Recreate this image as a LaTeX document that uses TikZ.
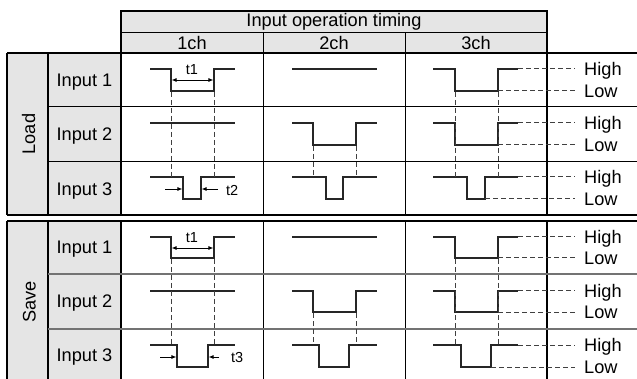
\documentclass[tikz,border=0pt]{standalone}
\usepackage{fontspec}
\setmainfont{Liberation Sans}
\usetikzlibrary{arrows.meta}
\begin{document}
\begin{tikzpicture}[x=1pt,y=-1pt,
  thickline/.style={line width=2pt, color=black},
  midline/.style={line width=1.4pt, color=black},
  thinline/.style={line width=1pt, color=black},
  greyline/.style={line width=1.2pt, color=black!55},
  wave/.style={line width=1.3pt, color=black!85, line join=miter},
  guide/.style={line width=1pt, dash pattern=on 5pt off 3pt, color=black!75},
  lbl/.style={font=\fontsize{18.2}{20}\selectfont, inner sep=0pt},
  tlbl/.style={font=\fontsize{14.5}{16}\selectfont, inner sep=0pt},
  meas/.style={line width=0.8pt, -{Latex[length=5pt,width=4pt]}},
  hdrfill/.style={fill=black!10},
]
\useasboundingbox (0,0) rectangle (637,379);
\clip (0,0) rectangle (637,379);

% fills
\fill[hdrfill] (121,11) rectangle (547,53);
\fill[hdrfill] (7,53) rectangle (121,215);
\fill[hdrfill] (7,221) rectangle (121,390);

% header lines
\draw[thinline] (121,33) -- (547,33);
\draw[thinline] (263,33) -- (263,53);
\draw[thinline] (405,33) -- (405,53);
\draw[thickline] (121,53) -- (121,11) -- (547,11) -- (547,53);

% body grid
\draw[thickline] (7,53) -- (637,53);
\draw[thickline] (7,215) -- (637,215);
\draw[thickline] (7,221) -- (637,221);
\draw[thickline] (7,53) -- (7,215);
\draw[thickline] (7,221) -- (7,390);
\draw[midline] (48,53) -- (48,215);
\draw[midline] (48,221) -- (48,390);
\draw[thickline] (121,53) -- (121,215);
\draw[thickline] (121,221) -- (121,390);
\draw[thickline] (547,53) -- (547,215);
\draw[thickline] (547,221) -- (547,390);
\draw[thinline] (263,53) -- (263,215);
\draw[thinline] (263,221) -- (263,390);
\draw[thinline] (405,53) -- (405,215);
\draw[thinline] (405,221) -- (405,390);
\draw[thinline] (48,107) -- (637,107);
\draw[thinline] (48,162) -- (637,162);
\draw[greyline] (48,274) -- (637,274);
\draw[greyline] (48,329) -- (637,329);

% ---------- Load waveforms ----------
\draw[wave] (150,69) -| (171,91) -| (214,69) -- (235,69);
\draw[wave] (150,123) -- (235,123);
\draw[wave] (150,177) -| (183,199) -| (201,177) -- (235,177);
\draw[wave] (292,69) -- (377,69);
\draw[wave] (292,123) -| (313,145) -| (356,123) -- (377,123);
\draw[wave] (292,177) -| (326,199) -| (343,177) -- (377,177);
\draw[wave] (433,69) -| (455,91) -| (498,69) -- (518,69);
\draw[wave] (433,123) -| (455,145) -| (498,123) -- (518,123);
\draw[wave] (433,177) -| (467,199) -| (485,177) -- (518,177);

\draw[guide] (171,92) -- (171,177);
\draw[guide] (214,92) -- (214,177);
\draw[guide] (313,146) -- (313,177);
\draw[guide] (356,146) -- (356,177);
\draw[guide] (455,92) -- (455,177);
\draw[guide] (498,92) -- (498,177);
\draw[guide] (518,69) -- (575,69);
\draw[guide] (498,91) -- (575,91);
\draw[guide] (518,123) -- (575,123);
\draw[guide] (498,145) -- (575,145);
\draw[guide] (518,177) -- (575,177);
\draw[guide] (485,199) -- (575,199);

\draw[meas, {Latex[length=5pt,width=4pt]}-{Latex[length=5pt,width=4pt]}] (171.6,80) -- (213.4,80);
\draw[meas] (165,189) -- (182.4,189);
\draw[meas] (218,189) -- (201.6,189);

% ---------- Save waveforms ----------
\draw[wave] (150,237) -| (171,258) -| (214,237) -- (235,237);
\draw[wave] (150,291) -- (235,291);
\draw[wave] (150,345) -| (177,367) -| (208,345) -- (235,345);
\draw[wave] (292,237) -- (377,237);
\draw[wave] (292,291) -| (313,312) -| (356,291) -- (377,291);
\draw[wave] (292,345) -| (319,367) -| (349,345) -- (377,345);
\draw[wave] (433,237) -| (455,258) -| (498,237) -- (518,237);
\draw[wave] (433,291) -| (455,312) -| (498,291) -- (518,291);
\draw[wave] (433,345) -| (461,367) -| (491,345) -- (518,345);

\draw[guide] (171,259) -- (171,345);
\draw[guide] (214,259) -- (214,345);
\draw[guide] (313,313) -- (313,345);
\draw[guide] (356,313) -- (356,345);
\draw[guide] (455,259) -- (455,345);
\draw[guide] (498,259) -- (498,345);
\draw[guide] (518,237) -- (575,237);
\draw[guide] (498,258) -- (575,258);
\draw[guide] (518,291) -- (575,291);
\draw[guide] (498,312) -- (575,312);
\draw[guide] (518,345) -- (575,345);
\draw[guide] (491,367) -- (575,367);

\draw[meas, {Latex[length=5pt,width=4pt]}-{Latex[length=5pt,width=4pt]}] (171.6,248) -- (213.4,248);
\draw[meas] (160,357) -- (176.4,357);
\draw[meas] (219,357) -- (208.6,357);

% ---------- texts ----------
\node[lbl] (hdr) at (334,22) {Input operation timing};
\node[lbl, anchor=base] (c1) at (192,50) {1ch};
\node[lbl, anchor=base] (c2) at (334,50) {2ch};
\node[lbl, anchor=base] (c3) at (476,50) {3ch};

\node[lbl, rotate=90, anchor=base] (load) at (35,134) {Load};
\node[lbl, rotate=90, anchor=base] (save) at (35.5,302) {Save};

\node[lbl, anchor=base] (li1) at (84.5,86.4) {Input 1};
\node[lbl, anchor=base] (li2) at (84.5,140.9) {Input 2};
\node[lbl, anchor=base] (li3) at (84.5,195.4) {Input 3};
\node[lbl, anchor=base] (si1) at (84.5,253.9) {Input 1};
\node[lbl, anchor=base] (si2) at (84.5,307.9) {Input 2};
\node[lbl, anchor=base] (si3) at (84.5,361.9) {Input 3};

\node[tlbl, anchor=base] (lt1) at (192,74.5) {t1};
\node[tlbl, anchor=base west] (lt2) at (226,195.5) {t2};
\node[tlbl, anchor=base] (st1) at (192,242.5) {t1};
\node[tlbl, anchor=base west] (st3) at (231,362.5) {t3};

\node[lbl, anchor=base west] (lh1) at (584,75.5) {High};
\node[lbl, anchor=base west] (ll1) at (584,97.5) {Low};
\node[lbl, anchor=base west] (lh2) at (584,129.5) {High};
\node[lbl, anchor=base west] (ll2) at (584,151.5) {Low};
\node[lbl, anchor=base west] (lh3) at (584,183.5) {High};
\node[lbl, anchor=base west] (ll3) at (584,205.5) {Low};
\node[lbl, anchor=base west] (sh1) at (584,243.5) {High};
\node[lbl, anchor=base west] (sl1) at (584,264.5) {Low};
\node[lbl, anchor=base west] (sh2) at (584,297.5) {High};
\node[lbl, anchor=base west] (sl2) at (584,318.5) {Low};
\node[lbl, anchor=base west] (sh3) at (584,351.5) {High};
\node[lbl, anchor=base west] (sl3) at (584,373.5) {Low};
\end{tikzpicture}
\end{document}
